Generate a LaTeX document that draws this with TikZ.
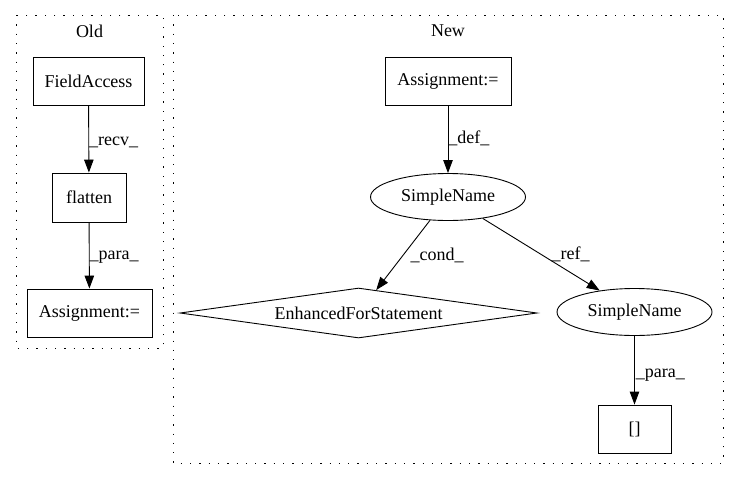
\documentclass[tikz,border=0pt]{standalone}
\usepackage{fontspec}
\setmainfont{Liberation Serif}
\usetikzlibrary{shapes.geometric,arrows.meta}
\begin{document}
\begin{tikzpicture}[x=1pt,y=-1pt,
  every node/.style={font=\fontsize{18}{21}\selectfont},
  box/.style={draw, line width=0.9pt, rectangle, inner sep=0pt, minimum height=48pt},
  ell/.style={draw, line width=0.9pt, ellipse, inner sep=0pt, minimum width=155pt, minimum height=47pt},
  dia/.style={draw, line width=0.9pt, diamond, aspect=7, inner sep=0pt, minimum width=357pt, minimum height=50pt},
  edge/.style={draw, line width=0.9pt, -{Triangle[length=13pt,width=9.5pt]}},
  elbl/.style={anchor=west, inner sep=0pt},
  cluster/.style={draw, line width=1pt, dash pattern=on 1.3pt off 8pt}]
\useasboundingbox (0,0) rectangle (739,480);
% clusters
\draw[cluster] (16,15) rectangle (163,348);
\node (oldlbl) at (89.5,31) {Old};
\draw[cluster] (173,15) rectangle (723,463);
\node (newlbl) at (448,31) {New};
% Old nodes
\node[box, minimum width=111pt] (fa) at (88.5,81) {FieldAccess};
\node[box, minimum width=74pt, minimum height=49pt] (fl) at (89,197.5) {flatten};
\node[box, minimum width=125pt] (oa) at (89.5,313) {Assignment:=};
% New nodes
\node[box, minimum width=126pt] (na) at (448,81) {Assignment:=};
\node[ell] (sn1) at (448,197) {SimpleName};
\node[dia] (efs) at (358.5,313) {EnhancedForStatement};
\node[ell] (sn2) at (634.5,312) {SimpleName};
\node[box, minimum width=73pt] (br) at (634.5,429) {[]};
% edges
\draw[edge] (fa) -- (fl) node[elbl, pos=0.5, yshift=-3pt] {\_recv\_};
\draw[edge] (fl) -- (oa) node[elbl, pos=0.5, yshift=-1.5pt] {\_para\_};
\draw[edge] (na) -- (sn1) node[elbl, pos=0.5, yshift=1pt] {\_def\_};
\draw[edge] (sn1) -- (efs) node[elbl, pos=0.5, xshift=7pt] {\_cond\_};
\draw[edge] (sn1) -- (sn2) node[elbl, pos=0.5, xshift=10pt] {\_ref\_};
\draw[edge] (sn2) -- (br) node[elbl, pos=0.5, xshift=1pt, yshift=-5pt] {\_para\_};
\end{tikzpicture}
\end{document}
